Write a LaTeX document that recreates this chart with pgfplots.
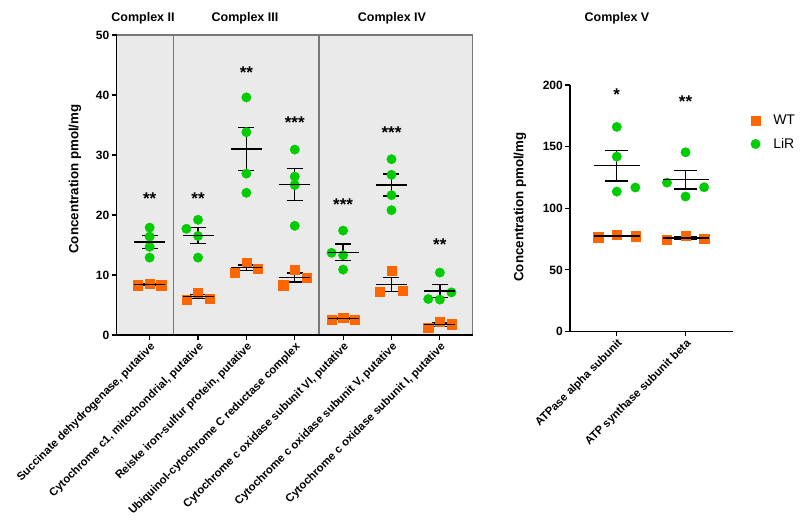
\documentclass[border=0pt]{standalone}
\usepackage{pgfplots}
\pgfplotsset{compat=1.18}
\usepackage{fontspec}
\setmainfont{Liberation Sans}
\definecolor{wt}{RGB}{255,102,0}
\definecolor{lir}{RGB}{0,204,0}
\definecolor{bgc}{RGB}{234,234,234}
\definecolor{bdc}{RGB}{120,120,120}
\pgfplotsset{
  common/.style={
    scale only axis, anchor=south west,
    axis lines=left, axis line style={-, black, line width=1.2pt},
    tick align=outside, major tick length=5pt, tick style={black, line width=1.2pt},
    xticklabel style={rotate=45, anchor=north east, font=\bfseries\fontsize{11.3}{11.3}\selectfont, inner sep=1pt},
    yticklabel style={font=\bfseries\fontsize{12}{12}\selectfont, inner sep=2pt},
    /pgf/number format/assume math mode=true,
    ylabel={Concentration pmol/mg},
    axis on top, clip=false,
  },
  wtpts/.style={only marks, mark=square*, mark size=4.6pt, color=wt},
  lirpts/.style={only marks, mark=*, mark size=4.7pt, color=lir},
}
\begin{document}
\begin{tikzpicture}
\path[use as bounding box] (0pt,0pt) rectangle (800pt,529pt);
\node[font=\bfseries\fontsize{12.5}{12.5}\selectfont] at (143pt,511pt) {Complex II};
\node[font=\bfseries\fontsize{12.5}{12.5}\selectfont] at (245pt,511pt) {Complex III};
\node[font=\bfseries\fontsize{12.5}{12.5}\selectfont] at (392pt,511pt) {Complex IV};
\node[font=\bfseries\fontsize{12.5}{12.5}\selectfont] at (617pt,511pt) {Complex V};

\begin{axis}[common,
  at={(116.5pt,194pt)}, width=356pt, height=300pt,
  xmin=-0.685, xmax=6.675, ymin=0, ymax=50,
  xtick={0,...,6},
  xticklabels={{Succinate dehydrogenase, putative},{Cytochrome c1, mitochondrial, putative},{Reiske iron-sulfur protein, putative},{Ubiquinol-cytochrome C reductase complex},{Cytochrome c oxidase subunit VI, putative},{Cytochrome c oxidase subunit V, putative},{Cytochrome c oxidase subunit I, putative}},
  ytick={0,10,...,50},
  ylabel style={at={(axis description cs:-0.117,0.52)}, anchor=center, font=\bfseries\fontsize{13.3}{13.3}\selectfont},
]
\fill[bgc] (axis cs:-0.685,0) rectangle (axis cs:6.675,50);
\draw[bdc, line width=1.2pt] (axis cs:-0.685,0) rectangle (axis cs:0.5,50);
\draw[bdc, line width=1.2pt] (axis cs:0.5,0) rectangle (axis cs:3.5,50);
\draw[bdc, line width=1.2pt] (axis cs:3.5,0) rectangle (axis cs:6.675,50);
% WT points
\addplot[wtpts] coordinates {
(-0.24,8.3) (0,8.6) (0.24,8.3)
(0.76,5.9) (1,7.1) (1.24,6.1)
(1.76,10.4) (2,12.0) (2.24,11.1)
(2.76,8.3) (3,10.9) (3.24,9.6)
(3.76,2.5) (4,2.9) (4.24,2.6)
(4.76,7.2) (5,10.7) (5.24,7.4)
(5.76,1.2) (6,2.2) (6.24,1.8)
};
% LiR points
\addplot[lirpts] coordinates {
(0,17.9) (0,16.4) (0,14.7) (0,12.9)
(0.76,17.7) (1,19.2) (1,16.5) (1,12.9)
(2,39.6) (2,33.8) (2,26.9) (2,23.7)
(3,30.9) (3,26.4) (3,25.0) (3,18.2)
(3.76,13.7) (4,17.4) (4,13.3) (4,10.9)
(5,29.3) (5,26.7) (5,23.3) (5,20.8)
(5.76,6.0) (6,10.4) (6,5.9) (6.24,7.1)
};
% mean +- SEM
\addplot[black, only marks, mark=-, mark size=15.5pt, mark options={line width=1.3pt},
  error bars/.cd, y dir=both, y explicit, error mark=-,
  error mark options={rotate=90, mark size=8pt, line width=1.3pt, black},
  error bar style={line width=1.3pt, black}] coordinates {
(0,8.4) +- (0,0.1)
(1,6.4) +- (0,0.37)
(2,11.2) +- (0,0.46)
(3,9.6) +- (0,0.75)
(4,2.7) +- (0,0.12)
(5,8.4) +- (0,1.2)
(6,1.7) +- (0,0.3)
(0,15.5) +- (0,1.1)
(1,16.6) +- (0,1.35)
(2,31.0) +- (0,3.55)
(3,25.1) +- (0,2.65)
(4,13.8) +- (0,1.35)
(5,25.0) +- (0,1.85)
(6,7.35) +- (0,1.05)
};
\begin{scope}[font=\bfseries\fontsize{17}{17}\selectfont, yshift=-3pt]
\node at (axis cs:0,23.3) {**};
\node at (axis cs:1,23.3) {**};
\node at (axis cs:2,44.3) {**};
\node at (axis cs:3,35.9) {***};
\node at (axis cs:4,22.2) {***};
\node at (axis cs:5,34.2) {***};
\node at (axis cs:6,15.5) {**};
\end{scope}
\end{axis}

\begin{axis}[common,
  at={(570pt,197.5pt)}, width=163pt, height=246.5pt,
  xmin=-0.68, xmax=1.69, ymin=0, ymax=200,
  xtick={0,1},
  xticklabels={{ATPase alpha subunit},{ATP synthase subunit beta}},
  ytick={0,50,...,200},
  ylabel style={at={(axis description cs:-0.307,0.505)}, anchor=center, font=\bfseries\fontsize{13.3}{13.3}\selectfont},
  legend style={at={(1.09,0.895)}, anchor=north west, draw=none, fill=none,
    font=\fontsize{14}{14}\selectfont, row sep=8pt,
    /tikz/every odd column/.append style={column sep=11pt}},
  legend cell align=left,
  legend entries={WT,LiR},
]
\addlegendimage{wtpts}
\addlegendimage{lirpts}
\addplot[wtpts] coordinates {
(-0.27,76.5) (0,78.4) (0.27,77.3)
(0.73,74.3) (1,77.6) (1.27,75.4)
};
\addplot[lirpts] coordinates {
(0,166) (0,141.9) (0,113.5) (0.27,116.8)
(1,145.4) (0.73,120.8) (1.27,117) (1,109.5)
};
\addplot[black, only marks, mark=-, mark size=23pt, mark options={line width=1.3pt},
  error bars/.cd, y dir=both, y explicit, error mark=-,
  error mark options={rotate=90, mark size=11.7pt, line width=1.3pt, black},
  error bar style={line width=1.3pt, black}] coordinates {
(0,77.4) +- (0,0.55)
(1,75.8) +- (0,1.0)
(0,134.5) +- (0,12.3)
(1,123.2) +- (0,7.7)
};
\begin{scope}[font=\bfseries\fontsize{17}{17}\selectfont, yshift=-3pt]
\node at (axis cs:0,195) {*};
\node at (axis cs:1,188.7) {**};
\end{scope}
\end{axis}
\end{tikzpicture}
\end{document}
